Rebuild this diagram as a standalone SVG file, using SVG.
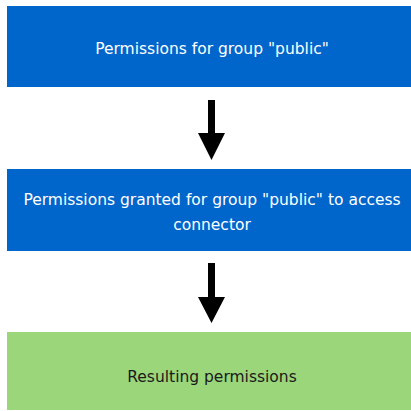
<svg xmlns="http://www.w3.org/2000/svg" width="411" height="411" viewBox="0 0 411 411">
<style>
.blue{fill:#0066CC}
.green{fill:#9BD67B}
.t{font-family:"DejaVu Sans",Verdana,sans-serif;font-size:15.5px;text-anchor:middle}
.w{fill:#ffffff}
.k{fill:#1a1a1a}
</style>
<g id="n1">
<rect class="blue" x="7" y="6" width="404" height="81"/>
<text class="t w" x="212" y="54">Permissions for group "public"</text>
</g>
<g id="n2">
<rect class="blue" x="7" y="169" width="404" height="82"/>
<text class="t w" x="212" y="205">Permissions granted for group "public" to access</text>
<text class="t w" x="212" y="230">connector</text>
</g>
<g id="n3">
<rect class="green" x="7" y="332" width="404" height="78"/>
<text class="t k" x="212" y="382">Resulting permissions</text>
</g>
<g id="connectors">
<polygon points="208,100 215,100 215,133 225,133 211.5,160 198,133 208,133" fill="#000"/>
<polygon points="208,263 215,263 215,297 225,297 211.5,323 198,297 208,297" fill="#000"/>
</g>
</svg>
